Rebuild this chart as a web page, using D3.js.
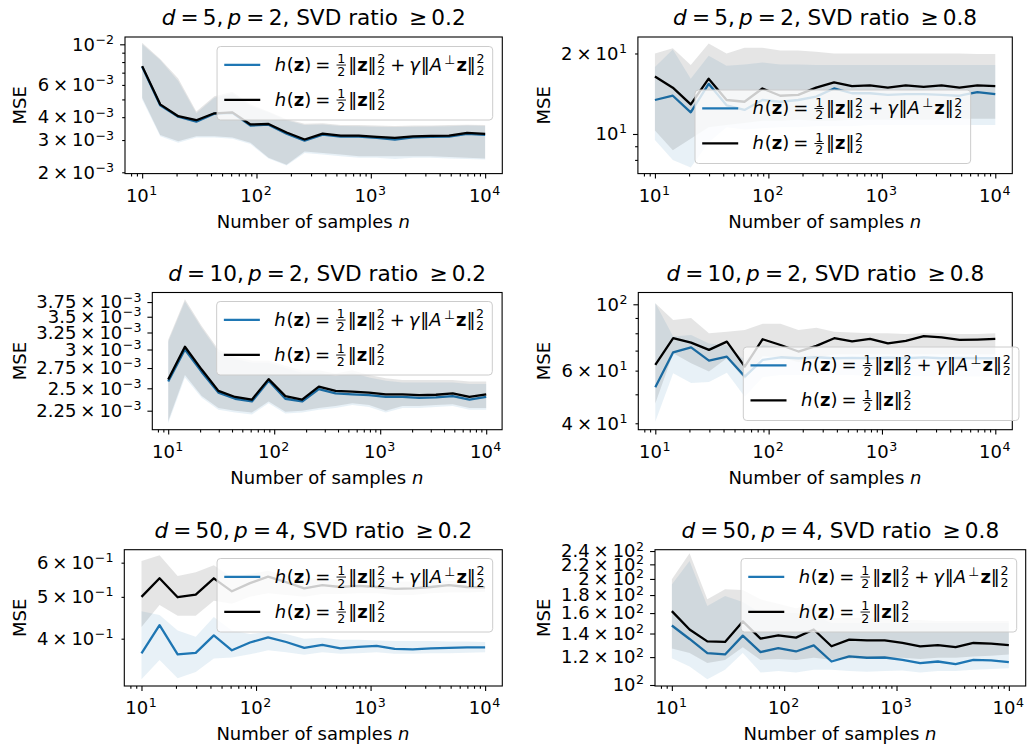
<!DOCTYPE html>
<html>
<head>
<meta charset="utf-8">
<script src="https://cdn.jsdelivr.net/npm/d3@7"></script>
<style>
  body { margin: 0; background: #fff; }
  svg text { font-family: "DejaVu Sans", sans-serif; fill: #000; }
</style>
</head>
<body>
<svg id="fig" width="1029" height="750"></svg>
<script>
// sample sizes n (20 log-spaced points from 10 to 10^4)
const sampleSizes = [10, 14.38, 20.69, 29.76, 42.81, 61.58, 88.59, 127.4, 183.3, 263.7,
  379.3, 545.6, 784.8, 1129, 1624, 2336, 3360, 4833, 6952, 10000];

// d=5, p=2, SVD ratio >= 0.2
const p1Reg = [7.55e-3, 4.65e-3, 4.02e-3, 3.78e-3, 4.18e-3, 4.22e-3, 3.6e-3, 3.64e-3, 3.25e-3, 2.98e-3,
  3.21e-3, 3.13e-3, 3.13e-3, 3.08e-3, 3.02e-3, 3.1e-3, 3.12e-3, 3.13e-3, 3.24e-3, 3.2e-3];
const p1RegLo = [5.0e-3, 3.15e-3, 2.9e-3, 3.1e-3, 3.1e-3, 3.05e-3, 2.85e-3, 2.38e-3, 2.18e-3, 2.55e-3,
  2.5e-3, 2.45e-3, 2.4e-3, 2.4e-3, 2.36e-3, 2.4e-3, 2.4e-3, 2.38e-3, 2.36e-3, 2.35e-3];
const p1RegHi = [1.0e-2, 8.2e-3, 6.3e-3, 4.2e-3, 5.1e-3, 5.4e-3, 4.6e-3, 4.25e-3, 3.85e-3, 3.62e-3,
  3.65e-3, 3.58e-3, 3.57e-3, 3.55e-3, 3.53e-3, 3.55e-3, 3.56e-3, 3.57e-3, 3.6e-3, 3.58e-3];
const p1Plain = [7.6e-3, 4.7e-3, 4.05e-3, 3.85e-3, 4.2e-3, 4.25e-3, 3.65e-3, 3.67e-3, 3.3e-3, 3.02e-3,
  3.25e-3, 3.17e-3, 3.17e-3, 3.12e-3, 3.08e-3, 3.14e-3, 3.16e-3, 3.17e-3, 3.28e-3, 3.24e-3];
const p1PlainLo = [5.1e-3, 3.2e-3, 2.95e-3, 3.15e-3, 3.15e-3, 3.1e-3, 2.9e-3, 2.4e-3, 2.2e-3, 2.6e-3,
  2.55e-3, 2.5e-3, 2.45e-3, 2.45e-3, 2.45e-3, 2.45e-3, 2.45e-3, 2.42e-3, 2.4e-3, 2.38e-3];
const p1PlainHi = [1.02e-2, 8.3e-3, 6.5e-3, 4.3e-3, 5.2e-3, 5.5e-3, 4.7e-3, 4.3e-3, 3.9e-3, 3.68e-3,
  3.7e-3, 3.62e-3, 3.62e-3, 3.6e-3, 3.58e-3, 3.6e-3, 3.6e-3, 3.62e-3, 3.64e-3, 3.62e-3];

// d=5, p=2, SVD ratio >= 0.8
const p2Reg = [13.4, 13.9, 12.05, 15.4, 12.8, 12.3, 13.4, 13.2, 13.4, 13.8,
  14.8, 14.2, 14.2, 14.0, 14.1, 14.1, 14.0, 13.9, 14.35, 14.1];
const p2RegLo = [9.5, 8.0, 7.5, 9.3, 10.6, 10.4, 10.5, 10.6, 10.6, 10.7,
  10.7, 10.7, 10.8, 10.8, 10.8, 10.8, 10.8, 10.8, 10.8, 10.8];
const p2RegHi = [17.8, 20.7, 16.1, 19.6, 18.0, 18.2, 18.5, 18.2, 18.2, 18.1,
  18.1, 18.1, 18.1, 18.1, 18.1, 18.1, 18.1, 18.1, 18.1, 18.1];
const p2Plain = [16.4, 14.9, 12.9, 16.1, 13.4, 13.2, 14.8, 13.9, 14.0, 14.9,
  15.6, 15.1, 15.2, 14.9, 15.2, 15.0, 15.2, 14.9, 15.2, 15.1];
const p2PlainLo = [10.3, 8.7, 9.6, 10.6, 10.8, 11.0, 11.2, 11.2, 11.3, 11.2,
  11.2, 11.3, 11.3, 11.3, 11.3, 11.3, 11.3, 11.4, 11.4, 11.4];
const p2PlainHi = [20.0, 20.9, 18.1, 21.8, 20.0, 21.0, 21.0, 20.5, 20.5, 20.3,
  20.0, 20.0, 20.0, 20.0, 20.0, 20.0, 20.0, 20.0, 19.9, 19.9];

// d=10, p=2, SVD ratio >= 0.2
const p3Reg = [2.58e-3, 3.0e-3, 2.7e-3, 2.45e-3, 2.38e-3, 2.35e-3, 2.59e-3, 2.38e-3, 2.35e-3, 2.49e-3,
  2.44e-3, 2.43e-3, 2.42e-3, 2.40e-3, 2.40e-3, 2.39e-3, 2.395e-3, 2.41e-3, 2.37e-3, 2.40e-3];
const p3RegLo = [2.12e-3, 2.63e-3, 2.39e-3, 2.26e-3, 2.23e-3, 2.21e-3, 2.33e-3, 2.22e-3, 2.23e-3, 2.26e-3,
  2.28e-3, 2.31e-3, 2.29e-3, 2.23e-3, 2.28e-3, 2.28e-3, 2.29e-3, 2.3e-3, 2.26e-3, 2.26e-3];
const p3RegHi = [3.11e-3, 3.76e-3, 3.32e-3, 2.97e-3, 2.87e-3, 2.82e-3, 2.82e-3, 2.75e-3, 2.69e-3, 2.69e-3,
  2.65e-3, 2.69e-3, 2.63e-3, 2.59e-3, 2.57e-3, 2.57e-3, 2.57e-3, 2.57e-3, 2.55e-3, 2.55e-3];
const p3Plain = [2.605e-3, 3.04e-3, 2.73e-3, 2.47e-3, 2.40e-3, 2.37e-3, 2.61e-3, 2.41e-3, 2.37e-3, 2.52e-3,
  2.47e-3, 2.46e-3, 2.45e-3, 2.43e-3, 2.43e-3, 2.42e-3, 2.425e-3, 2.44e-3, 2.40e-3, 2.43e-3];
const p3PlainLo = [2.14e-3, 2.66e-3, 2.41e-3, 2.28e-3, 2.25e-3, 2.23e-3, 2.35e-3, 2.24e-3, 2.25e-3, 2.28e-3,
  2.3e-3, 2.33e-3, 2.31e-3, 2.25e-3, 2.3e-3, 2.3e-3, 2.31e-3, 2.32e-3, 2.28e-3, 2.28e-3];
const p3PlainHi = [3.14e-3, 3.8e-3, 3.35e-3, 3.0e-3, 2.9e-3, 2.85e-3, 2.85e-3, 2.78e-3, 2.72e-3, 2.72e-3,
  2.68e-3, 2.72e-3, 2.66e-3, 2.62e-3, 2.6e-3, 2.6e-3, 2.6e-3, 2.6e-3, 2.58e-3, 2.58e-3];

// d=10, p=2, SVD ratio >= 0.8
const p4Reg = [52.8, 69.1, 71.8, 64.8, 66.8, 57.3, 65.2, 66.5, 66.0, 66.5,
  66.0, 66.2, 66.0, 66.3, 66.0, 66.4, 66.0, 66.2, 66.0, 66.0];
const p4RegLo = [40.5, 58.8, 54.5, 55.0, 59.0, 49.1, 57.0, 58.0, 58.0, 58.0,
  58.0, 58.0, 57.5, 57.5, 57.5, 57.5, 57.3, 57.3, 57.3, 57.3];
const p4RegHi = [101, 78, 79, 74, 73, 65, 73, 72, 72, 72,
  72, 72, 72, 72, 72, 72, 72, 72, 72, 72];
const p4Plain = [62.7, 77.0, 74.4, 70.4, 75.0, 61.9, 76.4, 73.1, 69.5, 72.6,
  77.0, 75.2, 76.6, 74.0, 75.5, 78.3, 77.5, 76.0, 76.2, 76.6];
const p4PlainLo = [46.6, 68.6, 63.5, 59.6, 66.0, 56.0, 67.0, 66.5, 64.0, 66.0,
  68, 68, 68, 68, 68, 68, 68, 68, 68, 68];
const p4PlainHi = [100.8, 88.6, 90, 80, 81, 82, 86, 86, 82, 83.5,
  81, 80.5, 80, 80, 79.5, 80, 80, 79.5, 79.5, 80];

// d=50, p=4, SVD ratio >= 0.2
const p5Reg = [0.370, 0.430, 0.368, 0.371, 0.407, 0.376, 0.392, 0.403, 0.393, 0.381,
  0.387, 0.380, 0.383, 0.385, 0.379, 0.378, 0.380, 0.381, 0.382, 0.382];
const p5RegLo = [0.322, 0.357, 0.324, 0.335, 0.360, 0.362, 0.368, 0.376, 0.372, 0.367,
  0.372, 0.369, 0.370, 0.372, 0.369, 0.369, 0.370, 0.370, 0.371, 0.372];
const p5RegHi = [0.463, 0.454, 0.418, 0.404, 0.449, 0.418, 0.410, 0.415, 0.410, 0.400,
  0.402, 0.398, 0.398, 0.396, 0.395, 0.395, 0.395, 0.394, 0.394, 0.393];
const p5Plain = [0.500, 0.552, 0.499, 0.506, 0.552, 0.515, 0.538, 0.557, 0.541, 0.523,
  0.532, 0.527, 0.530, 0.527, 0.522, 0.523, 0.527, 0.532, 0.527, 0.526];
const p5PlainLo = [0.426, 0.479, 0.452, 0.452, 0.490, 0.482, 0.500, 0.510, 0.505, 0.500,
  0.508, 0.508, 0.510, 0.510, 0.505, 0.505, 0.510, 0.512, 0.512, 0.514];
const p5PlainHi = [0.605, 0.624, 0.559, 0.570, 0.592, 0.555, 0.565, 0.575, 0.560, 0.550,
  0.553, 0.548, 0.548, 0.545, 0.543, 0.543, 0.545, 0.545, 0.543, 0.542];

// d=50, p=4, SVD ratio >= 0.8
const p6Reg = [147.5, 135.1, 123.2, 122.1, 138.1, 124.0, 127.3, 124.5, 129.6, 116.6,
  120.5, 119.5, 119.7, 117.9, 115.3, 116.6, 114.6, 117.9, 117.4, 116.1];
const p6RegLo = [119.2, 112.8, 103.8, 110.4, 123.2, 108.5, 109.5, 108.5, 110.5, 110.5,
  109.5, 109.0, 109.5, 110.0, 108.5, 109.5, 109.5, 110.5, 111.0, 111.6];
const p6RegHi = [193, 225, 167.5, 179, 172, 160, 160, 160, 158, 150,
  150, 150, 150, 150, 150, 150, 150, 150, 150, 150];
const p6Plain = [162.1, 143.7, 133.0, 132.5, 151.5, 135.4, 138.4, 136.3, 143.7, 128.8,
  134.5, 133.8, 133.8, 131.6, 128.8, 129.7, 128.1, 131.6, 131.0, 129.7];
const p6PlainLo = [127.0, 123.2, 115.5, 117.8, 128.0, 117.8, 118.5, 117.8, 119.5, 118.0,
  119.0, 119.0, 119.5, 119.5, 118.5, 119.5, 119.5, 120.5, 121.0, 122.0];
const p6PlainHi = [199.6, 236.5, 175, 187, 186, 175, 170, 165, 170, 155,
  155, 155, 154, 153, 153, 152, 152, 152, 152, 152];

// tick values
const xMajorTicks = [10, 100, 1000, 10000];
const xMinorTicks = [8, 9, 20, 30, 40, 50, 60, 70, 80, 90, 200, 300, 400, 500, 600, 700, 800, 900,
  2000, 3000, 4000, 5000, 6000, 7000, 8000, 9000];
const p1YLabeled = [0.002, 0.003, 0.004, 0.006, 0.01];
const p1YMinor = [0.005, 0.007, 0.008, 0.009];
const p2YLabeled = [10, 20];
const p2YMinor = [8, 9];
const p3YLabeled = [0.00225, 0.0025, 0.00275, 0.003, 0.00325, 0.0035, 0.00375];
const p4YLabeled = [40, 60, 100];
const p4YMinor = [50, 70, 80, 90];
const p5YLabeled = [0.4, 0.5, 0.6];
const p6YLabeled = [100, 120, 140, 160, 180, 200, 220, 240];

const BLUE = '#1f77b4';
const FS = 18;
const LFS = 18;
const xDomain = [7.0795, 14125.4];

const panels = [
  { d: '5', p: '2', r: '0.2', box: [125, 37, 502.3, 173.6], yDom: [1.967e-3, 1.0962e-2],
    reg: [p1Reg, p1RegLo, p1RegHi], plain: [p1Plain, p1PlainLo, p1PlainHi],
    yLab: p1YLabeled, yMin: p1YMinor, allMajor: false, legend: [492.7, 46.5, 'right'], labX: 26.2 },
  { d: '5', p: '2', r: '0.8', box: [637.9, 37, 1012.3, 173.6], yDom: [7.11, 23.05],
    reg: [p2Reg, p2RegLo, p2RegHi], plain: [p2Plain, p2PlainLo, p2PlainHi],
    yLab: p2YLabeled, yMin: p2YMinor, allMajor: false, legend: [695, 90, 'left'], labX: 549.7 },
  { d: '10', p: '2', r: '0.2', box: [152.3, 292.5, 502.1, 429.7], yDom: [2.0577e-3, 3.9224e-3],
    reg: [p3Reg, p3RegLo, p3RegHi], plain: [p3Plain, p3PlainLo, p3PlainHi],
    yLab: p3YLabeled, yMin: [], allMajor: true, legend: [492.3, 301.5, 'right'], labX: 26.2 },
  { d: '10', p: '2', r: '0.8', box: [638.3, 292.5, 1012.3, 429.7], yDom: [38.07, 109.5],
    reg: [p4Reg, p4RegLo, p4RegHi], plain: [p4Plain, p4PlainLo, p4PlainHi],
    yLab: p4YLabeled, yMin: p4YMinor, allMajor: false, legend: [743.3, 347, 'left'], labX: 549.7 },
  { d: '50', p: '4', r: '0.2', box: [124.3, 549.7, 502.3, 686], yDom: [0.3108, 0.6430],
    reg: [p5Reg, p5RegLo, p5RegHi], plain: [p5Plain, p5PlainLo, p5PlainHi],
    yLab: p5YLabeled, yMin: [], allMajor: false, legend: [492.7, 558.5, 'right'], labX: 26.2 },
  { d: '50', p: '4', r: '0.8', box: [655, 549.7, 1025.7, 686], yDom: [99.35, 242.1],
    reg: [p6Reg, p6RegLo, p6RegHi], plain: [p6Plain, p6PlainLo, p6PlainHi],
    yLab: p6YLabeled, yMin: [], allMajor: true, legend: [1016.7, 558.5, 'right'], labX: 549.7 }
];

// --- tiny mathtext-like renderer ---
const T = (s, st) => ({ t: s, st: st || 'rm' });
const SP = w => ({ sp: w });
const FRAC = (a, b) => ({ frac: [a, b] });
const SUP = s => ({ sup: s });
const SUPSUB = (sup, sub) => ({ sup: sup, sub: sub });

function renderMath(parent, atoms, x, y, fs, anchor) {
  const g = parent.append('g');
  const sm = fs * 0.7;
  let cx = 0;
  const put = (s, px, py, size, st) => {
    const el = g.append('text').attr('x', px).attr('y', py)
      .attr('font-size', size).style('white-space', 'pre').text(s);
    if (st === 'it') el.attr('font-style', 'italic');
    if (st === 'bf') el.attr('font-weight', 'bold');
    return el;
  };
  const wid = el => el.node().getComputedTextLength();
  atoms.forEach(a => {
    if (a.sp !== undefined) { cx += a.sp * fs; return; }
    if (a.frac) {
      cx += 0.08 * fs;
      const n = put(a.frac[0], 0, -0.42 * fs, sm);
      const dn = put(a.frac[1], 0, 0.27 * fs, sm);
      const wn = wid(n), wd = wid(dn), w = Math.max(wn, wd) + 0.16 * fs;
      n.attr('x', cx + (w - wn) / 2);
      dn.attr('x', cx + (w - wd) / 2);
      g.append('rect').attr('x', cx + 0.04 * fs).attr('y', -0.345 * fs)
        .attr('width', w - 0.08 * fs).attr('height', 0.05 * fs).attr('fill', '#000');
      cx += w + 0.08 * fs;
      return;
    }
    if (a.sup !== undefined || a.sub !== undefined) {
      let w = 0;
      const sx = cx + 0.03 * fs;
      if (a.sup !== undefined) {
        const e = put(a.sup, sx, a.sub !== undefined ? -0.42 * fs : -0.38 * fs, sm);
        w = Math.max(w, wid(e));
      }
      if (a.sub !== undefined) {
        const e = put(a.sub, sx, 0.22 * fs, sm);
        w = Math.max(w, wid(e));
      }
      cx = sx + w + 0.06 * fs;
      return;
    }
    cx += wid(put(a.t, cx, 0, fs, a.st));
    if (a.st === 'it') cx += 0.04 * fs;
  });
  const shift = anchor === 'middle' ? cx / 2 : anchor === 'end' ? cx : 0;
  g.attr('transform', `translate(${x - shift},${y})`);
  return { g: g, w: cx };
}

function tickAtoms(v) {
  const e = Math.floor(Math.log10(v) + 1e-9);
  const m = +(v / Math.pow(10, e)).toFixed(2);
  const ex = (e < 0 ? '\u2212' : '') + Math.abs(e);
  if (Math.abs(m - 1) < 1e-6) return [T('10'), SUP(ex)];
  return [T(String(m)), SP(0.22), T('\u00d7'), SP(0.22), T('10'), SUP(ex)];
}

const REL = 0.22;
const labelReg = [T('h', 'it'), T('('), T('z', 'bf'), T(')'), SP(REL), T('='), SP(REL),
  FRAC('1', '2'), T('\u2016'), T('z', 'bf'), T('\u2016'), SUPSUB('2', '2'),
  SP(REL), T('+'), SP(REL), T('\u03b3', 'it'), T('\u2016'), T('A', 'it'), SP(0.06), SUP('\u22a5'),
  T('z', 'bf'), T('\u2016'), SUPSUB('2', '2')];
const labelPlain = [T('h', 'it'), T('('), T('z', 'bf'), T(')'), SP(REL), T('='), SP(REL),
  FRAC('1', '2'), T('\u2016'), T('z', 'bf'), T('\u2016'), SUPSUB('2', '2')];

const svg = d3.select('#fig');

function drawPanel(P, idx) {
  const [x0, y0, x1, y1] = P.box;
  const x = d3.scaleLog().domain(xDomain).range([x0, x1]);
  const y = d3.scaleLog().domain(P.yDom).range([y1, y0]);

  svg.append('clipPath').attr('id', 'clip' + idx)
    .append('rect').attr('x', x0).attr('y', y0).attr('width', x1 - x0).attr('height', y1 - y0);
  const plot = svg.append('g').attr('clip-path', `url(#clip${idx})`);

  const line = d3.line().x(d => x(d[0])).y(d => y(d[1]));
  const area = d3.area().x(d => x(d[0])).y0(d => y(d[1])).y1(d => y(d[2]));

  [[P.reg, BLUE], [P.plain, '#000']].forEach(([s, color]) => {
    plot.append('path')
      .datum(sampleSizes.map((n, i) => [n, s[0][i]]))
      .attr('d', line).attr('fill', 'none').attr('stroke', color)
      .attr('stroke-width', 2.3).attr('stroke-linejoin', 'round');
    plot.append('path')
      .datum(sampleSizes.map((n, i) => [n, s[1][i], s[2][i]]))
      .attr('d', area).attr('fill', color).attr('fill-opacity', 0.1);
  });

  // axes ticks
  const styleAxis = g => {
    g.select('.domain').remove();
    g.selectAll('line').attr('stroke', '#000').attr('stroke-width', 1.1);
  };
  svg.append('g').attr('transform', `translate(0,${y1})`)
    .call(d3.axisBottom(x).tickValues(xMajorTicks).tickSize(4.9).tickFormat(''))
    .call(styleAxis);
  svg.append('g').attr('transform', `translate(0,${y1})`)
    .call(d3.axisBottom(x).tickValues(xMinorTicks.filter(v => v > xDomain[0] && v < xDomain[1]))
      .tickSize(2.8).tickFormat(''))
    .call(styleAxis);

  const isMajor = v => P.allMajor || Math.abs(Math.log10(v) - Math.round(Math.log10(v))) < 1e-9;
  svg.append('g').attr('transform', `translate(${x0},0)`)
    .call(d3.axisLeft(y).tickValues(P.yLab.filter(isMajor)).tickSize(4.9).tickFormat(''))
    .call(styleAxis);
  svg.append('g').attr('transform', `translate(${x0},0)`)
    .call(d3.axisLeft(y).tickValues(P.yLab.filter(v => !isMajor(v)).concat(P.yMin))
      .tickSize(2.8).tickFormat(''))
    .call(styleAxis);

  // spines
  svg.append('rect').attr('x', x0).attr('y', y0).attr('width', x1 - x0).attr('height', y1 - y0)
    .attr('fill', 'none').attr('stroke', '#000').attr('stroke-width', 1.1);

  // tick labels
  xMajorTicks.forEach(v => renderMath(svg, tickAtoms(v), x(v), y1 + 28, FS, 'middle'));
  P.yLab.forEach(v => renderMath(svg, tickAtoms(v), x0 - 9.8, y(v) + 6.3, FS, 'end'));

  // title
  renderMath(svg, [T('d', 'it'), SP(0.195), T('='), SP(0.195), T(P.d), T(','), SP(0.195),
    T('p', 'it'), SP(0.195), T('='), SP(0.195), T(P.p), T(', SVD ratio '), SP(0.195),
    T('\u2265'), SP(0.195), T(P.r)], (x0 + x1) / 2, y0 - 12, FS * 1.2, 'middle');

  // axis labels
  renderMath(svg, [T('Number of samples '), T('n', 'it')], (x0 + x1) / 2, y1 + 54, FS, 'middle');
  svg.append('text').attr('transform', `translate(${P.labX},${(y0 + y1) / 2}) rotate(-90)`)
    .attr('text-anchor', 'middle').attr('font-size', FS).text('MSE');

  // legend
  const lg = svg.append('g');
  const box = lg.append('rect');
  const rows = [[labelReg, BLUE], [labelPlain, '#000']];
  const texts = rows.map(([atoms]) => renderMath(lg, atoms, 0, 0, LFS, 'start'));
  const tw = d3.max(texts, t => t.w);
  const W = 7.2 + 36 + 14.4 + tw + 7.2, H = 73.5;
  const lx = P.legend[2] === 'right' ? P.legend[0] - W : P.legend[0];
  const ly = P.legend[1];
  box.attr('x', lx).attr('y', ly).attr('width', W).attr('height', H).attr('rx', 3.5)
    .attr('fill', '#fff').attr('fill-opacity', 0.8).attr('stroke', '#cccccc').attr('stroke-width', 1);
  rows.forEach(([atoms, color], i) => {
    const cy = ly + 18.3 + i * 35;
    lg.append('line').attr('x1', lx + 7.2).attr('x2', lx + 43.2).attr('y1', cy).attr('y2', cy)
      .attr('stroke', color).attr('stroke-width', 2.3);
    texts[i].g.attr('transform', `translate(${lx + 57.6},${cy + 6})`);
  });
}

panels.forEach(drawPanel);
</script>
</body>
</html>
